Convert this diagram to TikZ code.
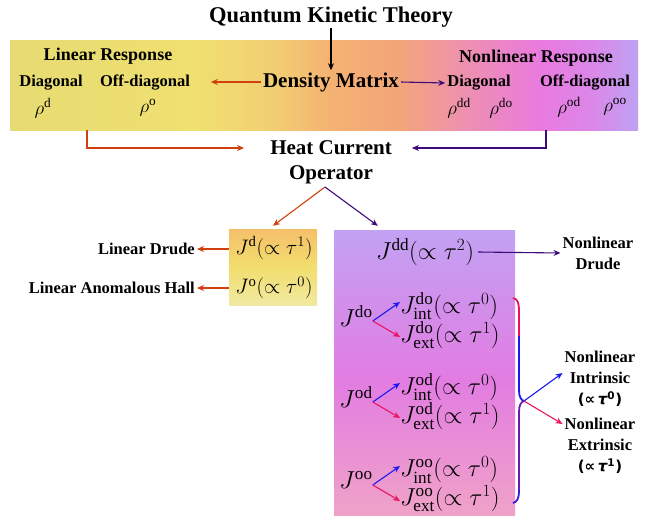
\documentclass[tikz,border=0pt]{standalone}
\usepackage{fix-cm}
\usepackage{amsmath}
\usepackage{fontspec}
\setmainfont{Liberation Serif}
\newfontfamily\dvsans{DejaVu Sans}
\usetikzlibrary{arrows.meta,positioning}

\definecolor{linred}{HTML}{D2400F}
\definecolor{nlpurple}{HTML}{3E0A78}
\definecolor{intblue}{HTML}{1A1AF0}
\definecolor{extred}{HTML}{E8155E}
\definecolor{braceviolet}{HTML}{6A1CB4}
\definecolor{bA}{HTML}{E6DB72}
\definecolor{bB}{HTML}{F0E070}
\definecolor{bC}{HTML}{F2CF72}
\definecolor{bD}{HTML}{F4B272}
\definecolor{bE}{HTML}{F3A57A}
\definecolor{bF}{HTML}{EE92AC}
\definecolor{bG}{HTML}{E97ADF}
\definecolor{bH}{HTML}{DC86E8}
\definecolor{bI}{HTML}{BEA2F2}
\definecolor{lA}{HTML}{F5BF6A}
\definecolor{lB}{HTML}{F2DE6E}
\definecolor{lC}{HTML}{F0E9A2}
\definecolor{nA}{HTML}{C2A2F3}
\definecolor{nB}{HTML}{E27CE2}
\definecolor{nC}{HTML}{F0A2C8}

\pgfdeclarehorizontalshading{bandshade}{100bp}{color(0bp)=(bA); color(25bp)=(bA);
  color(40bp)=(bB); color(45.7bp)=(bC); color(50.5bp)=(bD); color(56bp)=(bE);
  color(60.8bp)=(bF); color(67.2bp)=(bG); color(71.2bp)=(bH); color(75bp)=(bI); color(100bp)=(bI)}
\pgfdeclareverticalshading{linshade}{100bp}{color(0bp)=(lC); color(25bp)=(lC);
  color(50bp)=(lB); color(75bp)=(lA); color(100bp)=(lA)}
\pgfdeclareverticalshading{nlshade}{100bp}{color(0bp)=(nC); color(25bp)=(nC);
  color(49bp)=(nB); color(75bp)=(nA); color(100bp)=(nA)}

\newcommand{\proptag}[1]{{\dvsans\bfseries\fontsize{15}{18}\selectfont(∝\,{\itshape τ}\textsuperscript{#1})}}

\tikzset{
  ttl/.style={font=\bfseries\fontsize{22.5}{26}\selectfont, inner sep=1pt},
  big/.style={font=\bfseries\fontsize{21}{25}\selectfont, inner sep=2pt},
  hd/.style={font=\bfseries\fontsize{18}{22}\selectfont, inner sep=1pt},
  lab/.style={font=\bfseries\fontsize{16.5}{21}\selectfont, align=center, inner sep=2pt},
  rho/.style={font=\fontsize{19}{22}\selectfont, inner sep=1pt},
  jm/.style={font=\fontsize{21}{24}\selectfont, inner sep=1pt},
  jn/.style={font=\fontsize{24.5}{28}\selectfont, inner sep=0pt},
  tip/.style={-{Stealth[length=7pt,width=6pt]}},
  blk/.style={tip, draw=black, line width=1.1pt},
  lin/.style={tip, draw=linred, line width=1.1pt},
  nl/.style={tip, draw=nlpurple, line width=1.1pt},
  intarr/.style={tip, draw=intblue, line width=1.1pt},
  extarr/.style={tip, draw=extred, line width=1.1pt}
}

\begin{document}
\begin{tikzpicture}[x=1pt,y=-1pt]
\useasboundingbox (0,0) rectangle (646,515);
\shade[shading=bandshade] (10,40) rectangle (638,130);
\node[shade, shading=linshade, minimum width=88pt, minimum height=76pt, inner sep=0pt] (lbox) at (273,267) {};
\node[shade, shading=nlshade, minimum width=181pt, minimum height=285pt, inner sep=0pt] (nbox) at (424.5,372.5) {};

\node[ttl] (qkt) at (331,17) {Quantum Kinetic Theory};
\node[big] (dm) at (331,82) {Density Matrix};
\node[hd] (lr) at (108,56) {Linear Response};
\node[lab] (ldiag) at (51,83) {Diagonal};
\node[lab] (loff) at (145,83) {Off-diagonal};
\node[rho] (rd) at (43,108) {$\rho^{\mathrm{d}}$};
\node[rho] (ro) at (148,108) {$\rho^{\mathrm{o}}$};
\node[hd] (nr) at (536,58) {Nonlinear Response};
\node[lab] (ndiag) at (479,83) {Diagonal};
\node[lab] (noff) at (585,83) {Off-diagonal};
\node[rho] (rdd) at (459,108) {$\rho^{\mathrm{dd}}$};
\node[rho] (rdo) at (501,108) {$\rho^{\mathrm{do}}$};
\node[rho] (rod) at (569,107) {$\rho^{\mathrm{od}}$};
\node[rho] (roo) at (615,107) {$\rho^{\mathrm{oo}}$};
\draw[blk] (qkt) -- (dm);
\draw[lin] (dm.west) -- ([xshift=-50pt]dm.west);
\draw[nl] (dm.east) -- (ndiag.west);

\node[big] (hc) at (331,148) {Heat Current};
\node[big] (op) at (331,175) {Operator};
\coordinate (lstem) at (87,130);
\coordinate (nstem) at (546,130);
\draw[lin] (lstem) |- ([xshift=-24pt]hc.west);
\draw[nl] (nstem) |- ([xshift=18pt]hc.east);
\coordinate (split) at (325,187);
\draw[lin] (split) -- ([yshift=3pt]lbox.north);
\draw[nl] (split) -- ([xshift=44pt,yshift=4pt]nbox.north west);

\node[jm] (jd) at (274,248) {$J^{\mathrm{d}}(\propto\tau^1)$};
\node[jm] (jo) at (274,288) {$J^{\mathrm{o}}(\propto\tau^0)$};
\node[lab, anchor=east] (ldr) at (197,249) {Linear Drude};
\node[lab, anchor=east] (lah) at (197,288) {Linear Anomalous Hall};
\draw[lin] (lbox.west |- ldr) -- (ldr.east);
\draw[lin] (lbox.west |- lah) -- (lah.east);

\node[jn] (jdd) at (425,252) {$J^{\mathrm{dd}}(\propto\tau^2)$};
\node[lab] (ndr) at (598,253) {Nonlinear\\Drude};
\draw[nl] ([xshift=4pt]jdd.east) -- (ndr.west);

\foreach \nm/\yy in {do/316, od/397, oo/480}{
  \node[jn] (j\nm) at (356,\yy) {$J^{\mathrm{\nm}}$};
  \node[jn, anchor=west] (j\nm i) at (400,\yy-10) {$J^{\mathrm{\nm}}_{\mathrm{int}}(\propto\tau^0)$};
  \node[jn, anchor=west] (j\nm e) at (400,\yy+19) {$J^{\mathrm{\nm}}_{\mathrm{ext}}(\propto\tau^1)$};
  \draw[intarr] ([yshift=-5pt]j\nm.east) -- ([yshift=4pt]j\nm i.west);
  \draw[extarr] ([yshift=-5pt]j\nm.east) -- ([yshift=-2pt]j\nm e.west);
}

\coordinate (bt) at (513,298);
\coordinate (btip) at (524,401);
\coordinate (bb) at (513,503);
\draw[extred, line width=1.8pt] (bt) .. controls (518,299) and (519,303) .. (519,312) -- (519,336);
\draw[intblue, line width=1.8pt] (519,336) -- (519,390) .. controls (519,397) and (521,400) .. (btip);
\draw[braceviolet, line width=1.8pt] (btip) .. controls (521,402) and (519,405) .. (519,412) -- (519,490);
\draw[intblue!60!braceviolet, line width=1.8pt] (519,490) .. controls (519,499) and (517,502) .. (bb);

\node[lab] (nint) at (600,379) {Nonlinear\\Intrinsic\\\proptag{0}};
\node[lab] (next) at (600,446) {Nonlinear\\Extrinsic\\\proptag{1}};
\draw[intarr] (btip) -- ([yshift=6pt]nint.west);
\draw[extarr] (btip) -- ([yshift=22pt]next.west);
\end{tikzpicture}
\end{document}
